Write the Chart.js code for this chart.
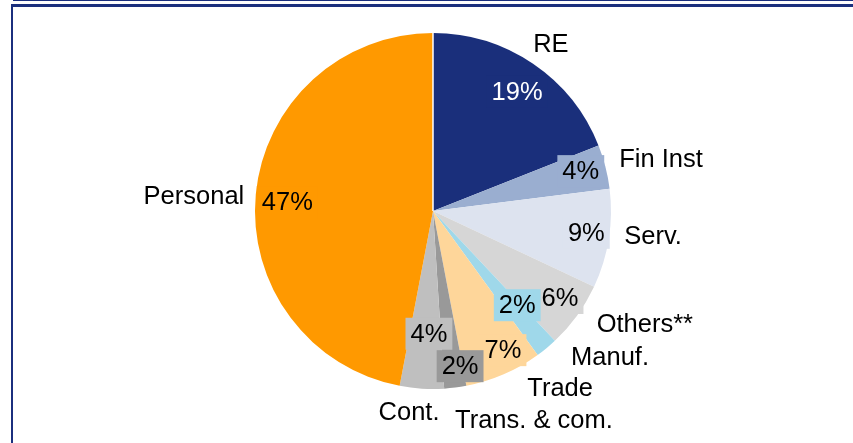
<!DOCTYPE html>
<html>
<head>
<meta charset="utf-8">
<script src="https://cdn.jsdelivr.net/npm/chart.js@4"></script>
<style>
    html, body { margin: 0; padding: 0; background: #fff; }
    #wrap { position: relative; width: 853px; height: 443px; overflow: hidden; }
    .rule { position: absolute; background: #1b2f7e; }
    #topThin { left: 13px; top: 0; width: 840px; height: 1px; }
    #topThick { left: 11px; top: 4px; width: 842px; height: 3px; }
    #leftLine { left: 11px; top: 4px; width: 2px; height: 439px; }
    canvas { position: absolute; left: 0; top: 0; }
</style>
</head>
<body>
<div id="wrap">
    <div class="rule" id="topThin"></div>
    <div class="rule" id="topThick"></div>
    <div class="rule" id="leftLine"></div>
    <canvas id="pieChart" width="853" height="443"></canvas>
</div>
<script>
const sectors = ['RE', 'Fin Inst', 'Serv.', 'Others**', 'Manuf.', 'Trade', 'Trans. & com.', 'Cont.', 'Personal'];
const shares = [19, 4, 9, 6, 2, 7, 2, 4, 47];
const sectorColors = ['#1a2f7b', '#9aaed0', '#dde3ef', '#d6d6d6', '#9fd8ea', '#fed69a', '#999999', '#bfbfbf', '#ff9900'];

// label placement: [radius as fraction of pie radius, angle nudge in degrees]
const pctPlace = [[0.82, 1.0], [0.86, -0.7], [0.87, -0.9], [0.865, -1.6], [0.71, -2.2], [0.875, -3.3], [0.885, -2.7], [0.69, -1.7], [0.82, -1.9]];
const namePlace = [[1.149, 1.0], [1.314, 1.6], [1.244, -2.5], [1.349, -7.9], [1.289, -10.9], [1.224, -12.3], [1.303, -18.6], [1.137, 3.2], [1.346, -1.7]];
const pctText = ['#ffffff', '#000', '#000', '#000', '#000', '#000', '#000', '#000', '#000'];

const FONT = '25.5px "Liberation Sans", Arial, sans-serif';

function polar(arc, place) {
    const mid = (arc.startAngle + arc.endAngle) / 2 + place[1] * Math.PI / 180;
    const r = arc.outerRadius * place[0];
    return { x: arc.x + Math.cos(mid) * r, y: arc.y + Math.sin(mid) * r };
}

const pieLabels = {
    id: 'pieLabels',
    afterDatasetsDraw(chart) {
        const ctx = chart.ctx;
        const arcs = chart.getDatasetMeta(0).data;
        ctx.save();

        // thin white seam where the first and last slices meet at the top
        const a0 = arcs[0];
        ctx.strokeStyle = '#ffffff';
        ctx.lineWidth = 1.5;
        ctx.beginPath();
        ctx.moveTo(a0.x, a0.y);
        ctx.lineTo(a0.x + Math.cos(a0.startAngle) * a0.outerRadius, a0.y + Math.sin(a0.startAngle) * a0.outerRadius);
        ctx.stroke();

        ctx.font = FONT;
        ctx.textAlign = 'center';
        ctx.textBaseline = 'middle';
        arcs.forEach((arc, i) => {
            const txt = shares[i] + '%';
            const p = polar(arc, pctPlace[i]);
            const w = ctx.measureText(txt).width + 10;
            ctx.fillStyle = sectorColors[i];
            ctx.fillRect(p.x - w / 2, p.y - 16, w, 32);
            ctx.fillStyle = pctText[i];
            ctx.fillText(txt, p.x, p.y + 1);

            const q = polar(arc, namePlace[i]);
            ctx.fillStyle = '#000';
            ctx.fillText(sectors[i], q.x, q.y + 1);
        });
        ctx.restore();
    }
};

const ctx = document.getElementById('pieChart').getContext('2d');
new Chart(ctx, {
    type: 'pie',
    data: {
        labels: sectors,
        datasets: [{
            data: shares,
            backgroundColor: sectorColors,
            borderWidth: 0
        }]
    },
    options: {
        responsive: false,
        animation: false,
        layout: { padding: { left: 255, right: 242, top: 33, bottom: 54 } },
        plugins: {
            legend: { display: false },
            tooltip: { enabled: false }
        }
    },
    plugins: [pieLabels]
});
</script>
</body>
</html>
